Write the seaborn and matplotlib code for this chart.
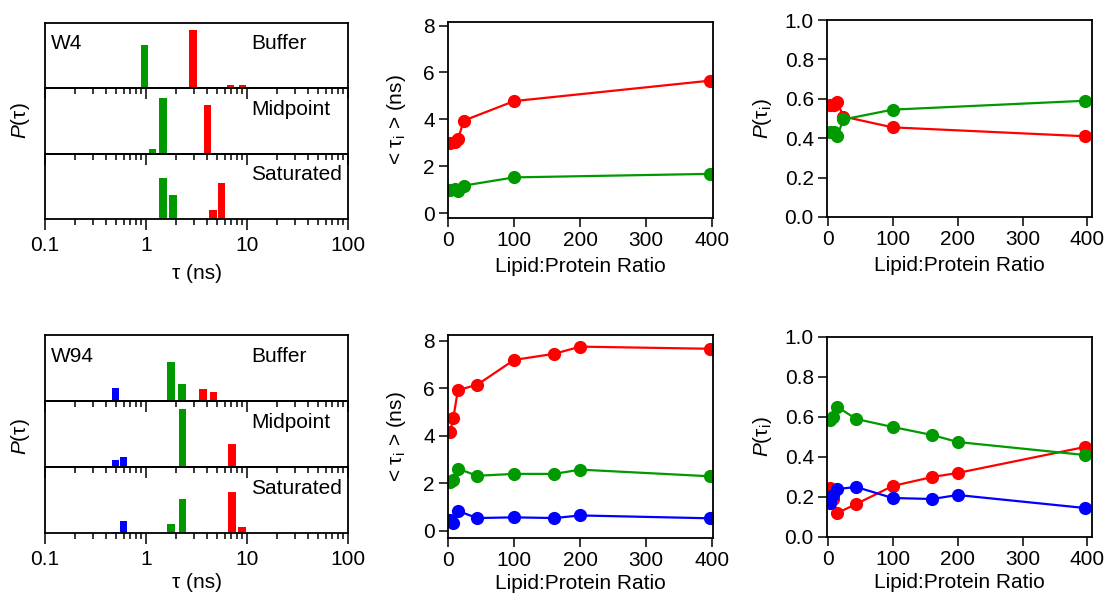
import matplotlib
matplotlib.use("Agg")
import matplotlib.pyplot as plt
import seaborn as sns

# ---- lifetime distributions (tau in ns, amplitude) ----
W4_BUF_TAU = [0.97, 2.92, 6.9, 9.06]
W4_BUF_P = [0.397, 0.535, 0.031, 0.031]
W4_BUF_C = ["g", "r", "r", "r"]
W4_MID_TAU = [1.16, 1.48, 4.05]
W4_MID_P = [0.046, 0.508, 0.446]
W4_MID_C = ["g", "g", "r"]
W4_SAT_TAU = [1.48, 1.85, 4.6, 5.6]
W4_SAT_P = [0.375, 0.222, 0.083, 0.329]
W4_SAT_C = ["g", "g", "r", "r"]

W94_BUF_TAU = [0.50, 1.76, 2.26, 3.68, 4.66]
W94_BUF_P = [0.117, 0.354, 0.157, 0.111, 0.086]
W94_BUF_C = ["b", "g", "g", "r", "r"]
W94_MID_TAU = [0.50, 0.60, 2.29, 5.57, 7.08]
W94_MID_P = [0.068, 0.092, 0.523, 0.012, 0.209]
W94_MID_C = ["b", "b", "g", "r", "r"]
W94_SAT_TAU = [0.50, 0.60, 1.76, 2.29, 7.08, 8.89]
W94_SAT_P = [0.012, 0.108, 0.080, 0.311, 0.369, 0.058]
W94_SAT_C = ["b", "b", "g", "g", "r", "r"]

# ---- titration series ----
W4_RATIO = [3, 10, 15, 24, 100, 396]
W4_TAU_RED = [3.0, 3.05, 3.15, 3.95, 4.78, 5.65]
W4_TAU_GREEN = [1.0, 1.02, 0.95, 1.18, 1.53, 1.68]
W4_P_RED = [0.57, 0.57, 0.585, 0.51, 0.455, 0.41]
W4_P_GREEN = [0.43, 0.43, 0.41, 0.495, 0.545, 0.59]

W94_RATIO = [3, 8, 15, 44, 100, 161, 200, 396]
W94_TAU_RED = [4.15, 4.75, 5.93, 6.15, 7.2, 7.46, 7.76, 7.67]
W94_TAU_GREEN = [2.05, 2.15, 2.62, 2.32, 2.4, 2.4, 2.58, 2.3]
W94_TAU_BLUE = [0.47, 0.33, 0.84, 0.54, 0.57, 0.54, 0.65, 0.53]
W94_P_RED = [0.245, 0.19, 0.12, 0.165, 0.255, 0.30, 0.32, 0.45]
W94_P_GREEN = [0.585, 0.60, 0.65, 0.59, 0.55, 0.51, 0.475, 0.41]
W94_P_BLUE = [0.17, 0.21, 0.24, 0.25, 0.195, 0.19, 0.21, 0.145]

COLORS = {"r": "#ff0000", "g": "#009a00", "b": "#0000ff"}

sns.set_theme(style="ticks")
plt.rcParams.update({
    "font.family": ["Liberation Sans", "DejaVu Sans"],
    "mathtext.fontset": "custom",
    "mathtext.rm": "Liberation Sans",
    "mathtext.it": "Liberation Sans:italic",
    "font.size": 15,
    "axes.labelsize": 15,
    "xtick.labelsize": 15,
    "ytick.labelsize": 15,
    "axes.linewidth": 1.3,
    "axes.edgecolor": "black",
    "xtick.color": "black",
    "ytick.color": "black",
    "text.color": "black",
    "axes.labelcolor": "black",
})

W, H = 1107, 595
fig = plt.figure(figsize=(W / 100, H / 100), dpi=100)


def px_axes(x0, y0, x1, y1):
    return fig.add_axes([x0 / W, 1 - y1 / H, (x1 - x0) / W, (y1 - y0) / H])


HALF = 0.037  # half bar width in decades


def hist_stack(y0, y1, panels, tag, label_y, xpad):
    h = (y1 - y0) / 3
    for i, (name, tau, p, comp) in enumerate(panels):
        ax = px_axes(45, y0 + i * h, 348, y0 + (i + 1) * h)
        ax.patch.set_alpha(0)
        left = [t * 10 ** (-HALF) for t in tau]
        width = [t * (10 ** HALF - 10 ** (-HALF)) for t in tau]
        ax.bar(left, p, width=width, align="edge",
               color=[COLORS[c] for c in comp], linewidth=0)
        ax.set_xscale("log")
        ax.set_xlim(0.1, 100)
        ax.set_ylim(0, 0.6)
        ax.set_yticks([])
        ax.set_xticks([0.1, 1, 10, 100], ["0.1", "1", "10", "100"])
        ax.tick_params(axis="x", which="major", direction="out", length=8,
                       width=1.1, labelbottom=(i == 2), pad=4)
        ax.tick_params(axis="x", which="minor", direction="out", length=4,
                       width=1.1)
        ax.text(0.68, 0.68, name, transform=ax.transAxes, va="center",
                ha="left")
        if i == 0:
            ax.text(0.018, 0.68, tag, transform=ax.transAxes, va="center",
                    ha="left")
        if i == 2:
            ax.set_xlabel("τ (ns)", labelpad=xpad)
    fig.text(21 / W, 1 - label_y / H, "$P$(τ)", rotation=90,
             ha="center", va="center", fontsize=15)


hist_stack(23, 219, [
    ("Buffer", W4_BUF_TAU, W4_BUF_P, W4_BUF_C),
    ("Midpoint", W4_MID_TAU, W4_MID_P, W4_MID_C),
    ("Saturated", W4_SAT_TAU, W4_SAT_P, W4_SAT_C),
], "W4", 121, 7)

hist_stack(335, 533, [
    ("Buffer", W94_BUF_TAU, W94_BUF_P, W94_BUF_C),
    ("Midpoint", W94_MID_TAU, W94_MID_P, W94_MID_C),
    ("Saturated", W94_SAT_TAU, W94_SAT_P, W94_SAT_C),
], "W94", 437, 3)


def series_panel(box, x, series, ylim, yticks, xlim, ylabel, ylab_x, xpad):
    ax = px_axes(*box)
    for y, c in series:
        sns.lineplot(x=x, y=y, color=COLORS[c], marker="o", markersize=9.5,
                     markeredgewidth=0, linewidth=1.6, ax=ax)
    ax.set_xlim(*xlim)
    ax.set_ylim(*ylim)
    ax.set_xticks([0, 100, 200, 300, 400])
    ax.set_yticks(yticks)
    ax.tick_params(direction="out", length=6.5, width=1.1, pad=3)
    ax.set_xlabel("Lipid:Protein Ratio", labelpad=xpad)
    ax.set_ylabel(ylabel)
    ax.yaxis.set_label_coords(ylab_x, 0.5)
    return ax


series_panel((448, 22, 713, 218), W4_RATIO,
             [(W4_TAU_RED, "r"), (W4_TAU_GREEN, "g")],
             (-0.2, 8.15), [0, 2, 4, 6, 8], (0, 401),
             "< τ$_\\mathregular{i}$ > (ns)", -0.15, 5)
series_panel((448, 335, 713, 538), W94_RATIO,
             [(W94_TAU_RED, "r"), (W94_TAU_GREEN, "g"), (W94_TAU_BLUE, "b")],
             (-0.3, 8.25), [0, 2, 4, 6, 8], (0, 401),
             "< τ$_\\mathregular{i}$ > (ns)", -0.15, 3)
series_panel((827, 20, 1092, 217), W4_RATIO,
             [(W4_P_RED, "r"), (W4_P_GREEN, "g")],
             (0, 1.0), [0, 0.2, 0.4, 0.6, 0.8, 1.0], (-1, 407),
             "$P$(τ$_\\mathregular{i}$)", -0.2, 5)
series_panel((827, 337, 1092, 537), W94_RATIO,
             [(W94_P_RED, "r"), (W94_P_GREEN, "g"), (W94_P_BLUE, "b")],
             (0, 1.0), [0, 0.2, 0.4, 0.6, 0.8, 1.0], (-1, 407),
             "$P$(τ$_\\mathregular{i}$)", -0.2, 3)

for ax in fig.axes[-2:]:
    ax.yaxis.set_major_formatter(matplotlib.ticker.FormatStrFormatter("%.1f"))

fig.savefig("out.png", dpi=100)
